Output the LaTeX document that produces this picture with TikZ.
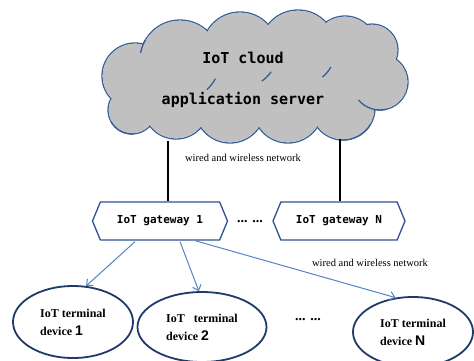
\documentclass[tikz,border=0pt]{standalone}
\usepackage{fontspec}
\setmainfont{Liberation Serif}
\newfontfamily\monofnt{DejaVu Sans Mono}
\newfontfamily\digfnt{Liberation Sans}
\usetikzlibrary{shapes.symbols,shapes.geometric,arrows.meta,calc}
\definecolor{cloudfill}{RGB}{192,192,192}
\definecolor{cloudline}{RGB}{52,94,150}
\definecolor{gwline}{RGB}{47,82,143}
\definecolor{ellline}{RGB}{32,58,104}
\definecolor{arrowc}{RGB}{84,132,196}
\tikzset{
  lobeline/.style={draw=cloudline, line width=1.3pt},
  lobefill/.style={fill=cloudfill},
  cloudtext/.style={font=\monofnt\bfseries\fontsize{15}{15}\selectfont, inner sep=0pt},
  gwbox/.style={signal, signal to=east and west, signal pointer angle=135, draw=gwline, line width=1.3pt, minimum height=38pt, inner sep=0pt, font=\monofnt\bfseries\fontsize{11}{12}\selectfont},
  termbox/.style={ellipse, draw=ellline, line width=1.8pt, inner sep=0pt, align=left, font=\bfseries\fontsize{12}{18}\selectfont},
  netlabel/.style={font=\fontsize{10.5}{12}\selectfont, inner sep=0pt},
  dotslabel/.style={font=\bfseries\fontsize{14}{14}\selectfont, inner sep=0pt},
  wire/.style={line width=1.5pt, black},
  link/.style={arrowc, line width=1pt, -{Straight Barb[length=5pt,width=9pt]}}
}
\newcommand{\dig}[1]{{\digfnt\fontsize{14}{14}\selectfont #1}}
\newcommand{\lobelist}{135/76/33, 180/60/40, 240/50/38, 298/48/38, 345/48/32, 372/50/26, 380/82/28, 343/108/32, 288/108/35, 230/108/35, 176/106/33, 132/110/24}
\newcommand{\cloudarc}[5]{\draw[lobeline] (#1,#2) ++(#4:#3) arc[start angle=#4, end angle=#5, radius=#3];}
\begin{document}
\begin{tikzpicture}[x=1pt,y=-1pt]
\useasboundingbox (0,0) rectangle (474,360);
\fill[white] (0,0) rectangle (474,360);
% cloud: outline of the union of lobes
\foreach \cx/\cy/\r in \lobelist {
  \draw[lobeline] (\cx,\cy) circle[radius=\r];
}
\foreach \cx/\cy/\r in \lobelist {
  \fill[lobefill] (\cx,\cy) circle[radius=\r-0.65];
}
\fill[lobefill] (135,76) -- (180,60) -- (240,50) -- (298,48) -- (345,48) -- (372,50) -- (380,82) -- (343,108) -- (288,108) -- (230,108) -- (176,106) -- (132,110) -- cycle;
% inner puff arcs
\cloudarc{132}{110}{24}{150}{85}
\cloudarc{180}{60}{40}{190}{210}
\cloudarc{180}{60}{40}{48}{28}
\cloudarc{240}{50}{38}{55}{35}
\cloudarc{298}{48}{38}{50}{30}
\cloudarc{380}{82}{28}{75}{140}
\cloudarc{343}{108}{32}{95}{30}
\node[cloudtext] (c1) at (243,58) {IoT cloud};
\node[cloudtext] (c2) at (243,100) {application server};
% gateways
\node[gwbox, minimum width=135pt] (gw1) at (160,221) {IoT gateway 1};
\node[gwbox, minimum width=132pt] (gwn) at (339,221) {IoT gateway N};
\node[dotslabel] (gdots) at (250,222) {... ...};
% wires
\coordinate (w1top) at (168,141);
\coordinate (w2top) at (340,139);
\draw[wire] (w1top) -- (w1top |- gw1.north);
\draw[wire] (w2top) -- (w2top |- gwn.north);
\node[netlabel] (lab1) at (243,158) {wired and wireless network};
\node[netlabel] (lab2) at (370,263) {wired and wireless network};
% terminals
\node[termbox, minimum width=120pt, minimum height=72pt] (t1) at (73,322) {IoT terminal\\device \dig{1}};
\node[termbox, minimum width=129pt, minimum height=70pt] (t2) at (202,327) {IoT~~~terminal\\device \dig{2}};
\node[termbox, minimum width=120pt, minimum height=70pt] (tn) at (413,332) {IoT terminal\\device \dig{N}};
\node[dotslabel] (tdots) at (308,320) {... ...};
% arrows
\draw[link] ($(gw1.south)+(-25,1)$) -- (t1.70);
\draw[link] ($(gw1.south)+(20,1)$) -- (t2.95);
\draw[link] ($(gw1.south)+(35,0)$) -- (tn.117);
\end{tikzpicture}
\end{document}
